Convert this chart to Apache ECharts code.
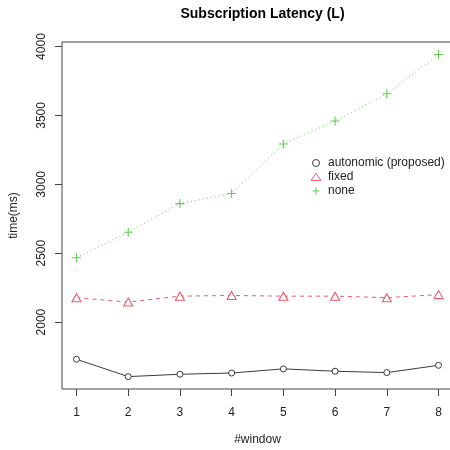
<!DOCTYPE html>
<html>
<head>
<meta charset="utf-8">
<script src="https://cdn.jsdelivr.net/npm/echarts@6/dist/echarts.min.js"></script>
<style>html,body{margin:0;padding:0;background:#fff;}#c{width:450px;height:450px;}</style>
</head>
<body>
<div id="c"></div>
<script>
const windows = [1, 2, 3, 4, 5, 6, 7, 8];
const autonomic = [1730, 1604, 1621, 1630, 1660, 1643, 1633, 1686];
const fixed = [2177, 2145, 2188, 2193, 2188, 2188, 2177, 2199];
const none = [2467, 2652, 2860, 2933, 3293, 3459, 3657, 3942];
const yTicks = [2000, 2500, 3000, 3500, 4000];
const xTicks = [1, 2, 3, 4, 5, 6, 7, 8];
const seriesNames = ['autonomic (proposed)', 'fixed', 'none'];

const FONT = '"Liberation Sans", Arial, Helvetica, sans-serif';
const TXT = '#222';
const BLACK = '#3a3a3a';
const RED = '#EC5C6E';
const GREEN = '#61D04F';
const plusPath = 'path://M5,0L5,10M0,5L10,5';
const pairs = arr => windows.map((w, i) => [w, arr[i]]);

const chart = echarts.init(document.getElementById('c'), null, {renderer: 'canvas'});
chart.setOption({
  animation: false,
  backgroundColor: '#fff',
  textStyle: {fontFamily: FONT},
  title: {
    text: 'Subscription Latency (L)',
    left: 257.5, top: 2, textAlign: 'center',
    textStyle: {fontFamily: FONT, fontWeight: 'bold', fontSize: 14, color: '#000'}
  },
  legend: {
    orient: 'vertical', left: 310, top: 157, padding: 0,
    itemWidth: 10, itemHeight: 7, itemGap: 2,
    textStyle: {fontFamily: FONT, fontSize: 12, color: TXT, padding: [0, 0, 0, 2]},
    data: [
      {name: seriesNames[0], icon: 'circle', itemStyle: {color: '#fff', borderColor: BLACK, borderWidth: 1}},
      {name: seriesNames[1], icon: 'triangle', itemStyle: {color: '#fff', borderColor: RED, borderWidth: 1}},
      {name: seriesNames[2], icon: plusPath, itemStyle: {color: 'none', borderColor: GREEN, borderWidth: 1.1}}
    ]
  },
  grid: {left: 62, top: 42, width: 391, height: 347, show: true, borderColor: '#444', borderWidth: 1,
    backgroundColor: 'transparent', outerBoundsMode: 'none', containLabel: false},
  xAxis: {
    type: 'value', min: 0.72, max: 8.28,
    name: '#window', nameLocation: 'middle', nameGap: 45,
    nameTextStyle: {fontFamily: FONT, fontSize: 12, color: TXT},
    axisLine: {show: false},
    axisTick: {show: true, length: 7, customValues: xTicks, lineStyle: {color: '#444'}},
    axisLabel: {customValues: xTicks, margin: 18, fontFamily: FONT, fontSize: 12, color: TXT},
    splitLine: {show: false}
  },
  yAxis: {
    type: 'value', min: 1514, max: 4033,
    name: 'time(ms)', nameLocation: 'middle', nameGap: 42,
    nameTextStyle: {fontFamily: FONT, fontSize: 12, color: TXT},
    axisLine: {show: false},
    axisTick: {show: true, length: 7, customValues: yTicks, lineStyle: {color: '#444'}},
    axisLabel: {customValues: yTicks, rotate: 90, margin: 14, fontFamily: FONT, fontSize: 12, color: TXT,
      formatter: v => String(v)},
    splitLine: {show: false}
  },
  series: [
    {
      name: seriesNames[0], type: 'line', data: pairs(autonomic),
      symbol: 'circle', symbolSize: 6,
      itemStyle: {color: '#fff', borderColor: BLACK, borderWidth: 1},
      lineStyle: {color: BLACK, width: 1, type: 'solid'}
    },
    {
      name: seriesNames[1], type: 'line', data: pairs(fixed),
      symbol: 'triangle', symbolSize: [9, 8],
      itemStyle: {color: '#fff', borderColor: RED, borderWidth: 1.1},
      lineStyle: {color: RED, width: 1, type: [4, 4]}
    },
    {
      name: seriesNames[2], type: 'line', data: pairs(none),
      symbol: plusPath, symbolSize: 9,
      itemStyle: {color: GREEN, borderColor: GREEN, borderWidth: 1.1},
      lineStyle: {color: GREEN, width: 1, type: [1, 3]}
    }
  ]
});
</script>
</body>
</html>
